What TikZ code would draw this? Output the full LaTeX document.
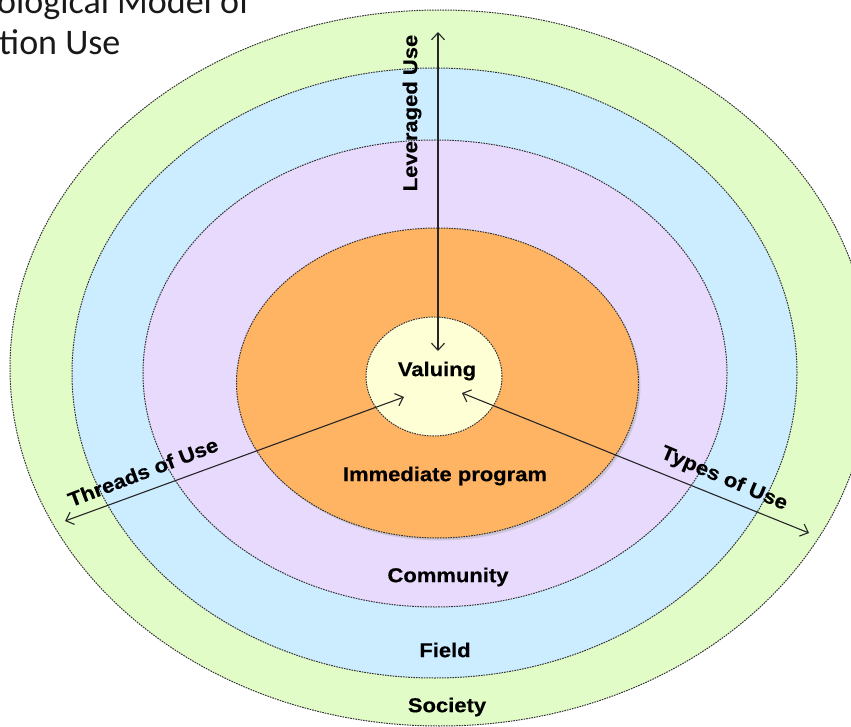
\documentclass[tikz,border=0pt]{standalone}
\usepackage{fontspec}
\usepackage{tikz}
\usetikzlibrary{arrows.meta}
\newfontfamily\lblfont[FakeStretch=1.1, BoldFeatures={FakeBold=0.4}]{Liberation Sans}
\newfontfamily\ttlfont{Carlito}

\definecolor{societygreen}{RGB}{226,252,200}
\definecolor{fieldblue}{RGB}{204,236,255}
\definecolor{communitypurple}{RGB}{232,218,253}
\definecolor{programorange}{RGB}{255,180,100}
\definecolor{valuingcream}{RGB}{255,255,214}

\begin{document}
\begin{tikzpicture}[x=1pt, y=-1pt]

%-------------------------------------------------
% Styles
%-------------------------------------------------
\tikzset{
  ring/.style={draw=black!80, line width=1pt, dash pattern=on 1.6pt off 1pt},
  shadow/.style={fill=black!30},
  label/.style={font=\lblfont\bfseries\fontsize{20}{24}\selectfont, inner sep=0pt, text=black},
  titletext/.style={font=\ttlfont\fontsize{36}{43}\selectfont, inner sep=0pt, text=black!90, anchor=base west},
  usearrow/.style={draw=black!85, line width=1.1pt, {Straight Barb[length=7pt,width=13pt]}-{Straight Barb[length=7pt,width=13pt]}}
}

\useasboundingbox (0,0) rectangle (851,727);

%-------------------------------------------------
% Title (cut off at the page edge)
%-------------------------------------------------
\node[titletext] (titleA) at (-3,14) {ological Model of};
\node[titletext] (titleB) at (-1,55) {tion Use};

%-------------------------------------------------
% Nested rings
%-------------------------------------------------
% Society
\fill[societygreen] (440,368) ellipse [x radius=430pt, y radius=358pt];
\draw[ring] (440,368) ellipse [x radius=430pt, y radius=358pt];

% Field
\fill[fieldblue] (434.5,373) ellipse [x radius=362.5pt, y radius=305pt];
\draw[ring] (434.5,373) ellipse [x radius=362.5pt, y radius=305pt];

% Community
\fill[communitypurple] (435,373.5) ellipse [x radius=292pt, y radius=233.5pt];
\draw[ring] (435,373.5) ellipse [x radius=292pt, y radius=233.5pt];

% Immediate program (with soft shadow)
\fill[shadow, opacity=0.5] (439.5,385.5) ellipse [x radius=201pt, y radius=155pt];
\fill[programorange] (437.5,383) ellipse [x radius=201pt, y radius=155pt];
\draw[ring] (437.5,383) ellipse [x radius=201pt, y radius=155pt];

% Valuing core
\fill[valuingcream] (434,376.5) ellipse [x radius=68pt, y radius=59.5pt];
\draw[ring] (434,376.5) ellipse [x radius=68pt, y radius=59.5pt];

%-------------------------------------------------
% Ring labels
%-------------------------------------------------
\node[label] (valuing) at (437,371) {Valuing};
\node[label] (program) at (445,476) {Immediate program};
\node[label] (community) at (448,577) {Community};
\node[label] (field) at (445,650) {Field};
\node[label] (society) at (447,707) {Society};

%-------------------------------------------------
% Directions of use
%-------------------------------------------------
\coordinate (levin) at (438,351);
\coordinate (levout) at (438,32);
\coordinate (thrin) at (404,397);
\coordinate (throut) at (65,521);
\coordinate (typin) at (462,393);
\coordinate (typout) at (809,533);

\draw[usearrow] (levin) -- (levout);
\draw[usearrow] (thrin) -- (throut);
\draw[usearrow] (typin) -- (typout);

\node[label, rotate=90] (leveraged) at (412,113) {Leveraged Use};
\node[label, rotate=21] (threads) at (143,472) {Threads of Use};
\node[label, rotate=-23] (types) at (724,479) {Types of Use};

\end{tikzpicture}
\end{document}
